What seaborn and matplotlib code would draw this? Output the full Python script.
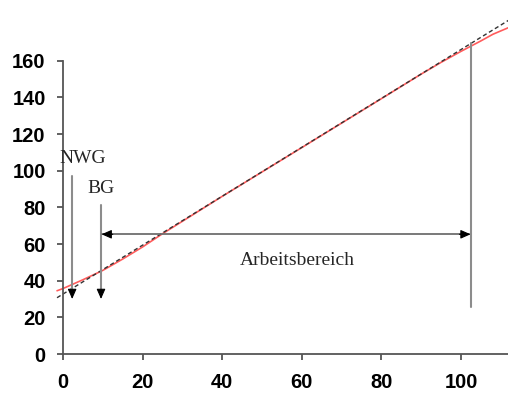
import matplotlib
matplotlib.use("Agg")
import matplotlib.pyplot as plt
import seaborn as sns
import pandas as pd

# Data
conc = [-1.5, 0, 5, 10, 15, 20, 25, 40, 60, 80, 90, 95, 100, 105, 108, 112]
signal = [34.5, 35.7, 40.5, 45.6, 51.8, 58.4, 65.6, 86.0, 112.6, 139.3, 152.7, 159.1, 165.1, 170.8, 174.4, 178.1]
fit_x = [-1.5, 112]
fit_y = [30.7, 182.1]
x_ticks = [0, 20, 40, 60, 80, 100]
y_ticks = [0, 20, 40, 60, 80, 100, 120, 140, 160]

sns.set_theme(style="ticks")
plt.rcParams["font.family"] = ["Liberation Sans", "DejaVu Sans"]

fig = plt.figure(figsize=(5.08, 3.94), dpi=100)
ax = fig.add_axes([63 / 508, 40 / 394, 445 / 508, 354 / 394])

df = pd.DataFrame({"x": conc, "y": signal})
sns.lineplot(data=df, x="x", y="y", color="#ff5c5c", lw=1.2, ax=ax, sort=True)
sns.lineplot(x=fit_x, y=fit_y, color="#333333", lw=1.0, ax=ax, dashes=False,
             linestyle=(0, (3, 2)))
for ln in ax.lines:
    ln.set_clip_on(False)

ax.set_xlim(0, 111.8)
ax.set_ylim(0, 193.1)
ax.set_xticks(x_ticks)
ax.set_yticks(y_ticks)
ax.set_xlabel("")
ax.set_ylabel("")
for s in ["top", "right"]:
    ax.spines[s].set_visible(False)
for s in ["left", "bottom"]:
    ax.spines[s].set_color("#555555")
    ax.spines[s].set_linewidth(1.3)
ax.spines["left"].set_bounds(0, 160)
ax.tick_params(axis="both", direction="out", length=4.3, width=1.3, color="#555555",
               labelsize=14.5, labelcolor="black")
ax.tick_params(axis="y", pad=8.2)
ax.tick_params(axis="x", pad=9.5)
for lab in ax.get_xticklabels() + ax.get_yticklabels():
    lab.set_fontweight("bold")

gray = "#8c8c8c"
serif = ["Liberation Serif", "DejaVu Serif"]

def down_arrow(x, y0, y1):
    ax.plot([x, x], [y0, y1 + 3], color=gray, lw=1.5, clip_on=False)
    ax.annotate("", xy=(x, y1), xytext=(x, y1 + 4),
                arrowprops=dict(arrowstyle="-|>,head_length=0.5,head_width=0.22",
                                color="black", lw=0.8, shrinkA=0, shrinkB=0))

# NWG
down_arrow(2.3, 97, 30)
ax.text(-0.9, 104, "NWG", family=serif, fontsize=14, ha="left", va="baseline")
# BG
down_arrow(9.55, 81.3, 30)
ax.text(6.1, 88, "BG", family=serif, fontsize=14, ha="left", va="baseline")

# Working range
ax.plot([9.9, 102.0], [65.3, 65.3], color="#6e6e6e", lw=1.3)
for xa, xb in [(9.7, 12.5), (102.4, 99.6)]:
    ax.annotate("", xy=(xa, 65.3), xytext=(xb, 65.3),
                arrowprops=dict(arrowstyle="-|>,head_length=0.5,head_width=0.22",
                                color="black", lw=0.8, shrinkA=0, shrinkB=0))
ax.plot([102.5, 102.5], [169.5, 25.8], color=gray, lw=1.5)
ax.text(44.5, 48.6, "Arbeitsbereich", family=serif, fontsize=14, ha="left", va="baseline")

fig.savefig("out.png", dpi=100)
